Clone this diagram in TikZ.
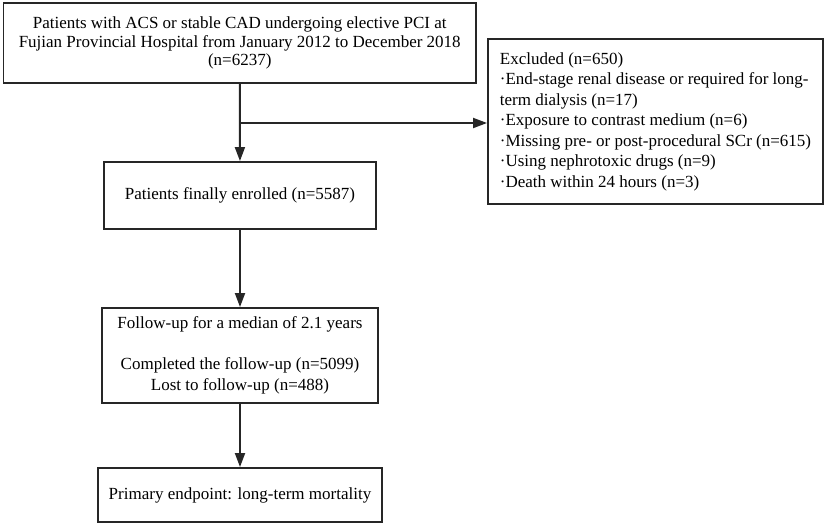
\documentclass[tikz,border=0pt]{standalone}
\usepackage{fontspec}
\setmainfont{Liberation Serif}
\usetikzlibrary{arrows.meta}
\begin{document}
\begin{tikzpicture}[x=1pt,y=-1pt,
  box/.style={draw=black!85, line width=1.9pt, inner sep=0pt, font=\fontsize{17}{20.5}\selectfont},
  arr/.style={draw=black!85, line width=1.9pt, -{Triangle[length=14pt,width=10pt]}}]
\useasboundingbox (0,0) rectangle (829,527);
\node[box, minimum width=472.5pt, minimum height=80pt, align=center, font=\fontsize{17}{18.3}\selectfont] (top) at (239.75,43)
  {Patients with ACS or stable CAD undergoing elective PCI at\\Fujian Provincial Hospital from January 2012 to December 2018\\(n=6237)};
\node[box, minimum width=335pt, minimum height=165pt, align=left] (exc) at (655.5,121.5)
  {Excluded (n=650)\\·End-stage renal disease or required for long-\\term dialysis (n=17)\\·Exposure to contrast medium (n=6)\\·Missing pre- or post-procedural SCr (n=615)\\·Using nephrotoxic drugs (n=9)\\·Death within 24 hours (n=3)};
\node[box, minimum width=272pt, minimum height=67pt] (enr) at (240,195.5) {Patients finally enrolled (n=5587)};
\node[box, minimum width=276pt, minimum height=95pt, align=center] (fu) at (240,355.5)
  {Follow-up for a median of 2.1 years\\[20.5pt]Completed the follow-up (n=5099)\\Lost to follow-up (n=488)};
\node[box, minimum width=284pt, minimum height=54pt] (pe) at (240,495) {Primary endpoint: long-term mortality};
\coordinate (j) at (240,123);
\draw[arr] (top) -- (enr);
\draw[arr] (j) -- (exc.west |- j);
\draw[arr] (enr) -- (fu);
\draw[arr] (fu) -- (pe);
\end{tikzpicture}
\end{document}
